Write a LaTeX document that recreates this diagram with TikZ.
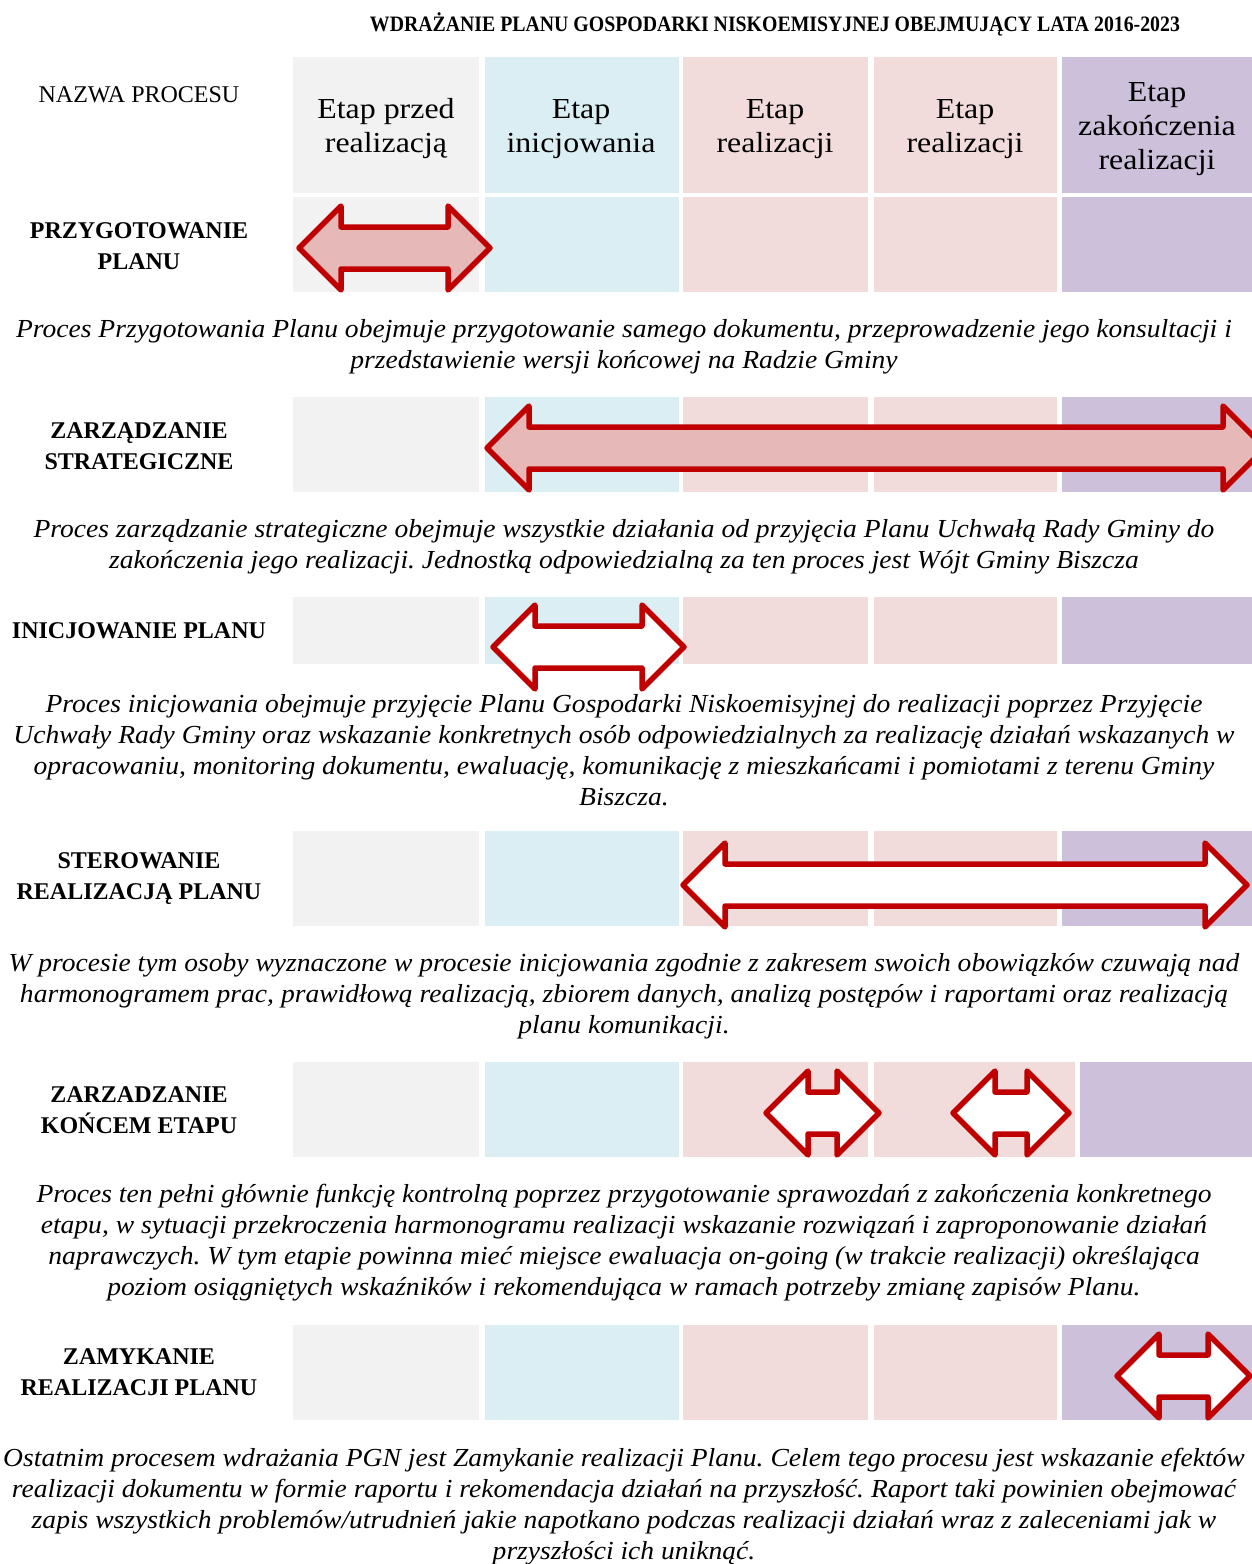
\documentclass[tikz,border=0pt]{standalone}
\usepackage{fontspec}
\setmainfont{Liberation Serif}
\newfontfamily\szerokifont{Liberation Serif}[FakeStretch=1.1]
\newfontfamily\opisfont{Liberation Serif}[FakeStretch=1.06]
\newfontfamily\tytulfont{Liberation Serif}[FakeStretch=0.9]
\frenchspacing

\definecolor{szary}{HTML}{F2F2F2}
\definecolor{niebieski}{HTML}{DAEEF3}
\definecolor{rozowy}{HTML}{F2DCDB}
\definecolor{fiolet}{HTML}{CCC0DA}
\definecolor{czerwony}{HTML}{C00000}
\definecolor{rozfill}{HTML}{E6B8B7}

\begin{document}
\begin{tikzpicture}[x=1pt,y=-1pt,
  tytul/.style={font={\tytulfont\bfseries\fontsize{22}{24}\selectfont}, inner sep=0pt},
  etap/.style={font={\szerokifont\fontsize{29}{34}\selectfont}, align=center, inner sep=0pt},
  proces/.style={font={\bfseries\fontsize{24}{31}\selectfont}, align=center, inner sep=0pt},
  opis/.style={font={\opisfont\itshape\fontsize{26}{31}\selectfont}, align=center, inner sep=0pt},
  strzalka/.style={draw=czerwony, line width=5.5pt, line join=round}]
\clip (0,0) rectangle (1252,1564);

\foreach \y/\h in {57/193, 197/292, 397/492, 597/664, 831/926, 1325/1420} {
  \fill[szary] (293,\y) rectangle (479,\h);
  \fill[niebieski] (485,\y) rectangle (679,\h);
  \fill[rozowy] (683,\y) rectangle (868,\h);
  \fill[rozowy] (874,\y) rectangle (1057,\h);
  \fill[fiolet] (1062,\y) rectangle (1252,\h);
}
\fill[szary] (293,1062) rectangle (479,1157);
\fill[niebieski] (485,1062) rectangle (679,1157);
\fill[rozowy] (683,1062) rectangle (868,1157);
\fill[rozowy] (874,1062) rectangle (1075,1157);
\fill[fiolet] (1080,1062) rectangle (1252,1157);

\node[tytul] (tytul) at (775,24) {WDRAŻANIE PLANU GOSPODARKI NISKOEMISYJNEJ OBEJMUJĄCY LATA 2016-2023};

\node[font={\fontsize{24}{31}\selectfont}, inner sep=0pt] (nazwa) at (139,95) {NAZWA PROCESU};
\node[etap] (etap1) at (386,129) {Etap przed\\realizacją};
\node[etap] (etap2) at (581,129) {Etap\\inicjowania};
\node[etap] (etap3) at (775,129) {Etap\\realizacji};
\node[etap] (etap4) at (965,129) {Etap\\realizacji};
\node[etap] (etap5) at (1157,129) {Etap\\zakończenia\\realizacji};

\node[proces] (przyg) at (139,246) {PRZYGOTOWANIE\\PLANU};
\node[proces] (strat) at (139,446) {ZARZĄDZANIE\\STRATEGICZNE};
\node[proces] (inic) at (139,631) {INICJOWANIE PLANU};
\node[proces] (ster) at (139,879) {STEROWANIE\\REALIZACJĄ PLANU};
\node[proces] (koniec) at (139,1110) {ZARZADZANIE\\KOŃCEM ETAPU};
\node[proces] (zamyk) at (139,1372) {ZAMYKANIE\\REALIZACJI PLANU};

% strzalki: lewy grot / prawy grot / os / wypelnienie
\foreach \l/\r/\c/\wyp in {299/490/248/rozfill, 487/1265/448/rozfill, 493/684/647/white,
    683/1247/885/white, 766/879/1113/white, 953/1069/1113/white, 1117/1250/1376/white}
  \filldraw[strzalka, fill=\wyp] (\l,\c) -- (\l+42,\c-42) -- (\l+42,\c-21) -- (\r-42,\c-21)
    -- (\r-42,\c-42) -- (\r,\c) -- (\r-42,\c+42) -- (\r-42,\c+21) -- (\l+42,\c+21)
    -- (\l+42,\c+42) -- cycle;

\node[opis] (opis1) at (624,346.5) {Proces Przygotowania Planu obejmuje przygotowanie samego dokumentu, przeprowadzenie jego konsultacji i\\przedstawienie wersji końcowej na Radzie Gminy};
\node[opis] (opis2) at (624,546.5) {Proces zarządzanie strategiczne obejmuje wszystkie działania od przyjęcia Planu Uchwałą Rady Gminy do\\zakończenia jego realizacji. Jednostką odpowiedzialną za ten proces jest Wójt Gminy Biszcza};
\node[opis] (opis3) at (624,750) {Proces inicjowania obejmuje przyjęcie Planu Gospodarki Niskoemisyjnej do realizacji poprzez Przyjęcie\\Uchwały Rady Gminy oraz wskazanie konkretnych osób odpowiedzialnych za realizację działań wskazanych w\\opracowaniu, monitoring dokumentu, ewaluację, komunikację z mieszkańcami i pomiotami z terenu Gminy\\Biszcza.};
\node[opis] (opis4) at (624,996) {W procesie tym osoby wyznaczone w procesie inicjowania zgodnie z zakresem swoich obowiązków czuwają nad\\harmonogramem prac, prawidłową realizacją, zbiorem danych, analizą postępów i raportami oraz realizacją\\planu komunikacji.};
\node[opis] (opis5) at (624,1242.5) {Proces ten pełni głównie funkcję kontrolną poprzez przygotowanie sprawozdań z zakończenia konkretnego\\etapu, w sytuacji przekroczenia harmonogramu realizacji wskazanie rozwiązań i zaproponowanie działań\\naprawczych. W tym etapie powinna mieć miejsce ewaluacja on-going (w trakcie realizacji) określająca\\poziom osiągniętych wskaźników i rekomendująca w ramach potrzeby zmianę zapisów Planu.};
\node[opis] (opis6) at (624,1507) {Ostatnim procesem wdrażania PGN jest Zamykanie realizacji Planu. Celem tego procesu jest wskazanie efektów\\realizacji dokumentu w formie raportu i rekomendacja działań na przyszłość. Raport taki powinien obejmować\\zapis wszystkich problemów/utrudnień jakie napotkano podczas realizacji działań wraz z zaleceniami jak w\\przyszłości ich uniknąć.};
\end{tikzpicture}
\end{document}
